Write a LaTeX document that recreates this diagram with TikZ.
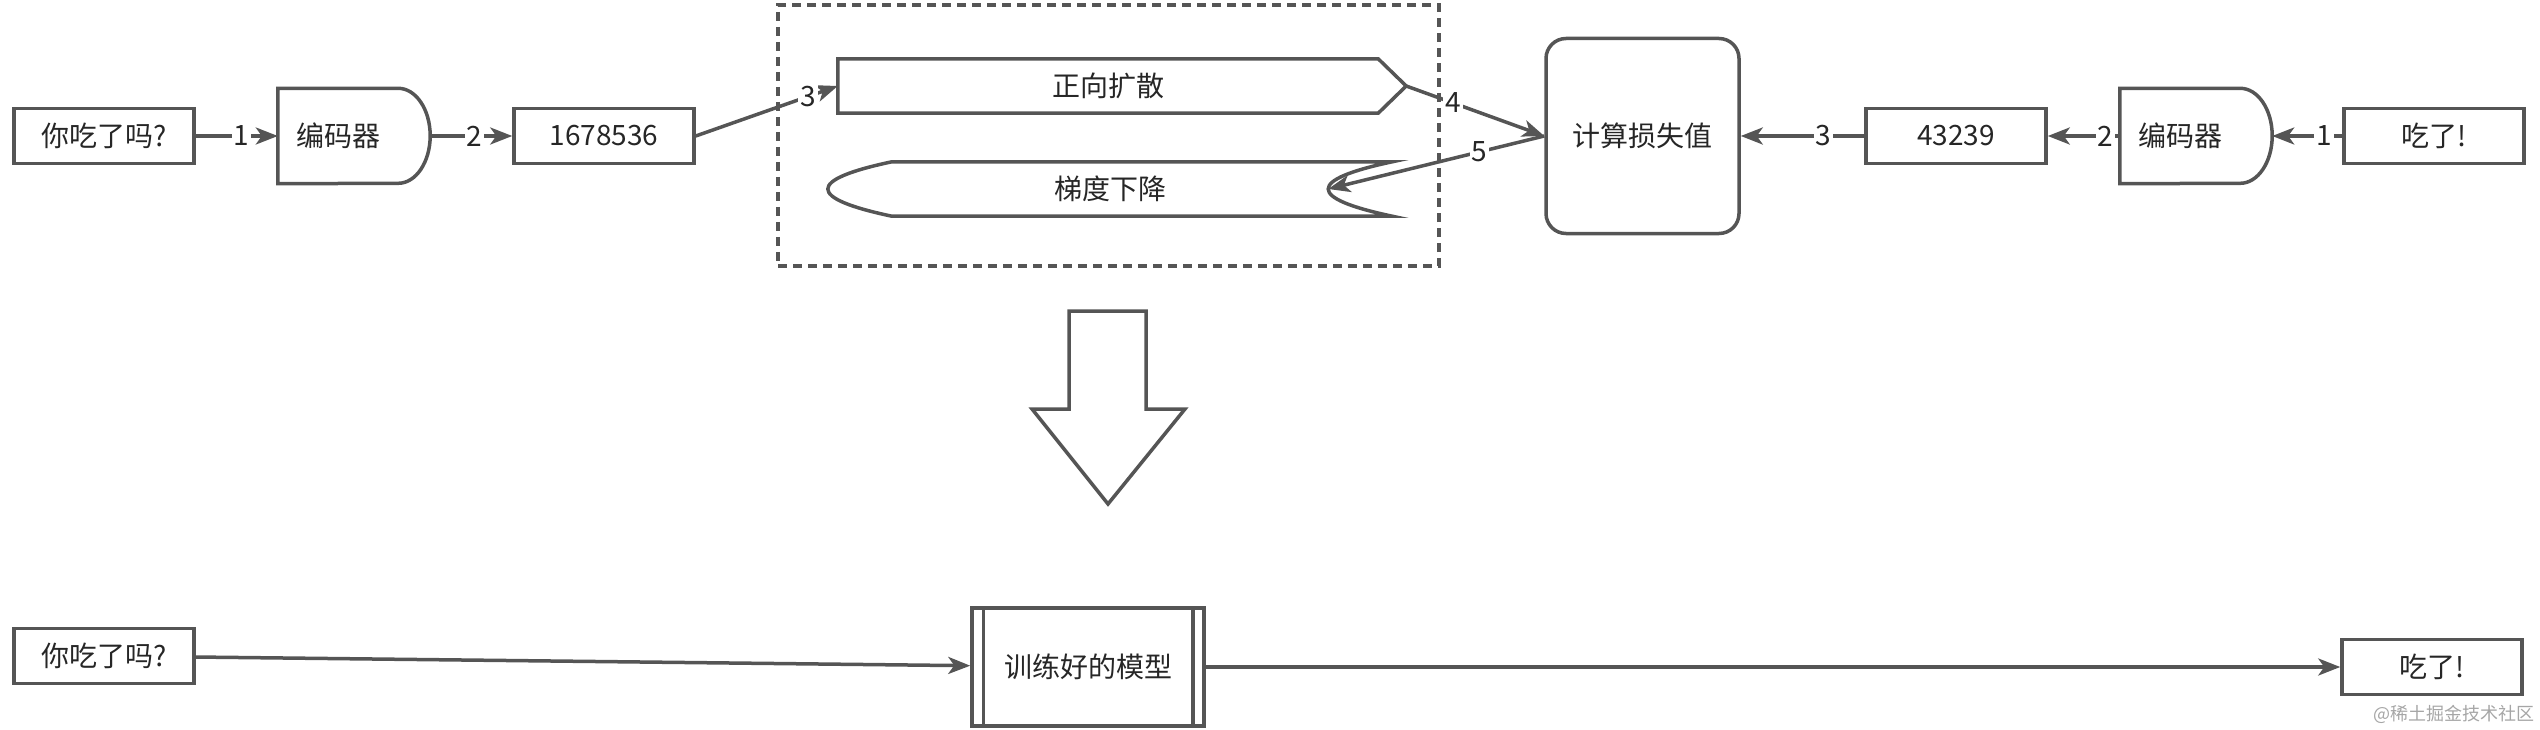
\documentclass[tikz,border=0pt]{standalone}
\usepackage{fontspec}
\setmainfont{Noto Sans CJK SC}
\usetikzlibrary{positioning,arrows.meta}
\definecolor{linegray}{HTML}{555555}

\begin{document}
\begin{tikzpicture}[
  x=1pt, y=1pt,
  font=\fontsize{28}{34}\selectfont,
  text=black!85,
  boxstyle/.style={
        draw=linegray,
        line width=3.5pt,
        minimum width=180pt,
        minimum height=55pt,
        inner sep=0pt
  },
  partstyle/.style={
        minimum height=#1,
        inner sep=0pt
  },
  outline/.style={
        draw=linegray,
        line width=3.5pt
  },
  flow/.style={
        draw=linegray,
        line width=3.5pt,
        -{Stealth[length=22pt, width=17pt, inset=6pt]}
  },
  num/.style={
        fill=white,
        inner sep=2pt
  }
]

    \useasboundingbox (0,0) rectangle (2540,-730);

    % top row, left side
    \node[boxstyle] (in_1) at (104,-136) {你吃了吗?};

    \node[partstyle=95pt, minimum width=120pt] (enc_1) at (338,-136) {编码器};
    \draw[outline] (enc_1.south west) -- (enc_1.north west) -- (enc_1.north east)
        arc[start angle=90, end angle=-90, x radius=32, y radius=47.5] -- cycle;
    \coordinate (enc_1_tip) at ([xshift=32pt]enc_1.east);

    \node[boxstyle] (num_1) at (604,-136) {1678536};

    % training frame
    \node[outline, dash pattern=on 9pt off 6pt, minimum width=661pt, minimum height=261pt] (frame) at (1108.5,-135.5) {};

    \node[partstyle=54pt, minimum width=540pt] (fwd) at (1108,-86) {正向扩散};
    \draw[outline] (fwd.north west) -- (fwd.north east) -- ([xshift=28pt]fwd.east)
        -- (fwd.south east) -- (fwd.south west) -- cycle;
    \coordinate (fwd_tip) at ([xshift=28pt]fwd.east);

    \node[partstyle=54pt, minimum width=436pt] (grad) at (1110,-189) {梯度下降};
    \draw[outline] ([xshift=64pt]grad.north east) -- (grad.north west)
        .. controls ([xshift=-85.3pt, yshift=-18pt]grad.north west) and ([xshift=-85.3pt, yshift=18pt]grad.south west) .. (grad.south west)
        -- ([xshift=64pt]grad.south east)
        .. controls ([xshift=-21.3pt, yshift=18pt]grad.south east) and ([xshift=-21.3pt, yshift=-18pt]grad.north east) .. cycle;

    \node[outline, rounded corners=20pt, minimum width=193pt, minimum height=195pt] (loss) at (1642.5,-136) {计算损失值};

    % top row, right side
    \node[boxstyle] (num_2) at (1956,-136) {43239};

    \node[partstyle=95pt, minimum width=120pt] (enc_2) at (2180,-136) {编码器};
    \draw[outline] (enc_2.south west) -- (enc_2.north west) -- (enc_2.north east)
        arc[start angle=90, end angle=-90, x radius=32, y radius=47.5] -- cycle;
    \coordinate (enc_2_tip) at ([xshift=32pt]enc_2.east);

    \node[boxstyle] (out_1) at (2434,-136) {吃了!};

    \draw[flow] (in_1) -- node[num, pos=0.56] {1} (enc_1);
    \draw[flow] (enc_1_tip) -- node[num, pos=0.54] {2} (num_1);
    \draw[flow] (num_1.east) -- node[num, pos=0.79] {3} (fwd.west);
    \draw[flow] (fwd_tip) -- node[num, pos=0.34] {4} (loss.west);
    \draw[flow] (loss.west) -- node[num, pos=0.3] {5} (grad.east);

    \draw[flow] (out_1) -- node[num, pos=0.26] {1} (enc_2_tip);
    \draw[flow] (enc_2) -- node[num, pos=0.2] {2} (num_2);
    \draw[flow] (num_2) -- node[num, pos=0.33] {3} (loss);

    % big arrow
    \draw[outline] (1069,-311) -- (1146,-311) -- (1146,-409) -- (1185,-409)
        -- (1108,-504) -- (1032,-409) -- (1069,-409) -- cycle;

    % bottom row
    \node[boxstyle] (in_2) at (104,-656) {你吃了吗?};
    \node[outline, minimum width=232pt, minimum height=118pt] (model) at (1088,-667) {训练好的模型};
    \draw[outline] ([xshift=13pt]model.north west) -- ([xshift=13pt]model.south west);
    \draw[outline] ([xshift=-13pt]model.north east) -- ([xshift=-13pt]model.south east);
    \node[boxstyle] (out_2) at (2432,-667) {吃了!};

    \draw[flow] (in_2) -- (model);
    \draw[flow] (model) -- (out_2);

    \node[anchor=east, text=gray!70, font=\fontsize{18}{20}\selectfont] (mark) at (2538,-714) {@稀土掘金技术社区};
\end{tikzpicture}
\end{document}
